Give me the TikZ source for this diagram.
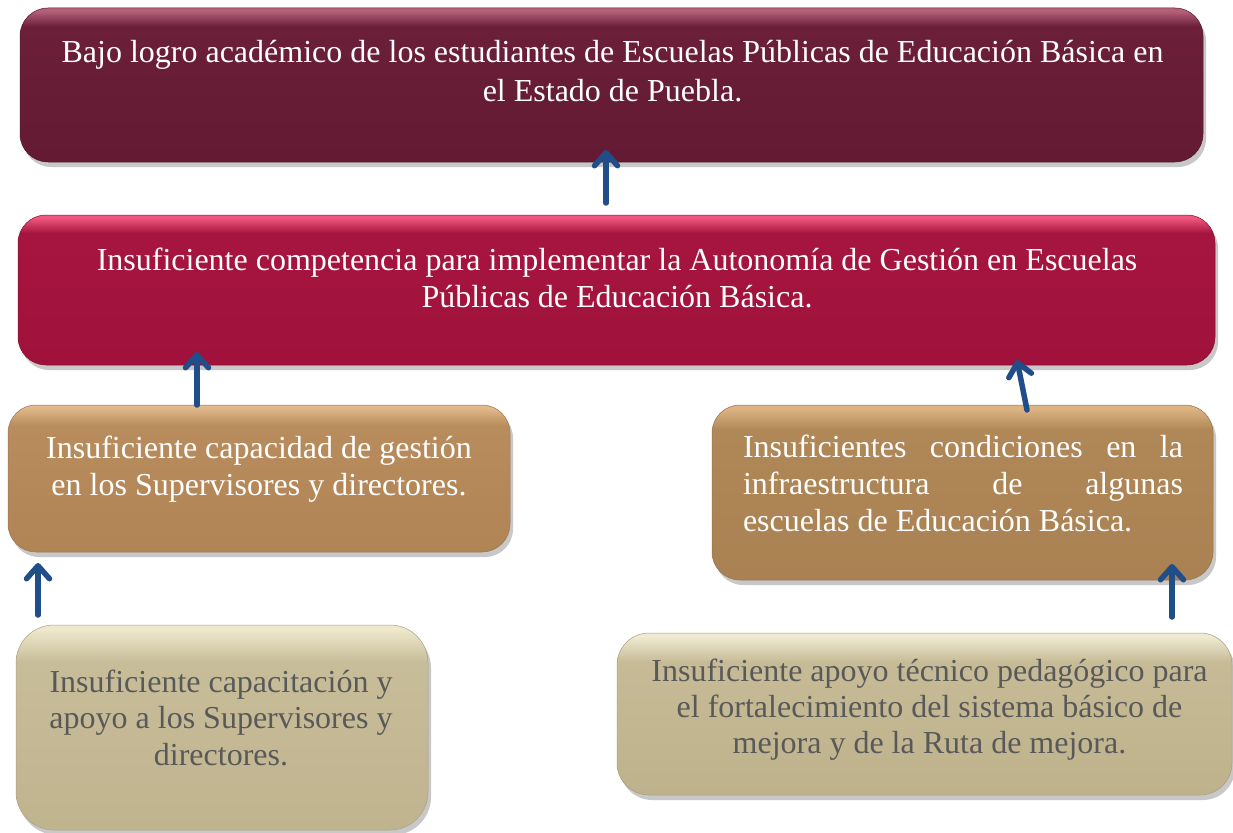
\documentclass[tikz,border=0pt]{standalone}
\usepackage{fontspec}
\setmainfont{Liberation Serif}
\usetikzlibrary{arrows.meta,shadows,calc}
\definecolor{cAm}{HTML}{6B1F38}\definecolor{cAt}{HTML}{B4607A}\definecolor{cAb}{HTML}{641A33}
\definecolor{cBm}{HTML}{A6153F}\definecolor{cBt}{HTML}{F0567F}\definecolor{cBb}{HTML}{A0123B}
\definecolor{cCm}{HTML}{B88C5D}\definecolor{cCt}{HTML}{E2B98A}\definecolor{cCb}{HTML}{B08455}
\definecolor{cDm}{HTML}{B08858}\definecolor{cDt}{HTML}{DDB383}\definecolor{cDb}{HTML}{A98152}
\definecolor{cEm}{HTML}{C8BD99}\definecolor{cEt}{HTML}{EEE8CC}\definecolor{cEb}{HTML}{C0B48F}
\definecolor{cFm}{HTML}{C6BB96}\definecolor{cFt}{HTML}{EFEAD2}\definecolor{cFb}{HTML}{BEB28C}
\definecolor{arrowblue}{HTML}{1F4E89}
\definecolor{greytext}{HTML}{595959}
\pgfdeclareverticalshading{shA}{100bp}{color(0bp)=(cAb); color(25bp)=(cAb); color(69bp)=(cAm); color(74bp)=(cAt); color(100bp)=(cAt)}
\pgfdeclareverticalshading{shB}{100bp}{color(0bp)=(cBb); color(25bp)=(cBb); color(69bp)=(cBm); color(74bp)=(cBt); color(100bp)=(cBt)}
\pgfdeclareverticalshading{shC}{100bp}{color(0bp)=(cCb); color(25bp)=(cCb); color(68bp)=(cCm); color(74bp)=(cCt); color(100bp)=(cCt)}
\pgfdeclareverticalshading{shD}{100bp}{color(0bp)=(cDb); color(25bp)=(cDb); color(68bp)=(cDm); color(74bp)=(cDt); color(100bp)=(cDt)}
\pgfdeclareverticalshading{shE}{100bp}{color(0bp)=(cEb); color(25bp)=(cEb); color(66bp)=(cEm); color(74bp)=(cEt); color(100bp)=(cEt)}
\pgfdeclareverticalshading{shF}{100bp}{color(0bp)=(cFb); color(25bp)=(cFb); color(66bp)=(cFm); color(74bp)=(cFt); color(100bp)=(cFt)}
\tikzset{
  boxbase/.style={rectangle, rounded corners=28pt, inner sep=0pt, outer sep=0pt, line width=0.5pt,
    drop shadow={shadow xshift=3pt, shadow yshift=-5pt, opacity=0.3, fill=black!70}},
  boxA/.style={boxbase, shade, shading=shA, draw=cAm!80!black},
  boxB/.style={boxbase, shade, shading=shB, draw=cBm!80!black},
  boxC/.style={boxbase, shade, shading=shC, draw=cCm!85!black},
  boxD/.style={boxbase, shade, shading=shD, draw=cDm!85!black},
  boxE/.style={boxbase, shade, shading=shE, draw=cEm!85!black, rounded corners=38pt},
  boxF/.style={boxbase, shade, shading=shF, draw=cFm!85!black, rounded corners=32pt},
  txt/.style={inner sep=0pt, outer sep=0pt, anchor=base, font=\fontsize{32}{37}\selectfont},
  whitetxt/.style={txt, text=white},
  greytxt/.style={txt, text=greytext},
  arr/.style={-{Straight Barb[length=13pt,width=23pt,round]}, line width=5.5pt, draw=arrowblue, line cap=round}
}
\begin{document}
\begin{tikzpicture}[x=1pt,y=-1pt]
\useasboundingbox (0,0) rectangle (1233,832);
\fill[white] (0,0) rectangle (1233,832);
% boxes
\node[boxA, minimum width=1183pt, minimum height=154pt] (b1) at (611.5,85) {};
\node[boxB, minimum width=1197pt, minimum height=150pt] (b2) at (616.5,290) {};
\node[boxC, minimum width=502pt, minimum height=147pt] (b3) at (259,478.5) {};
\node[boxD, minimum width=501pt, minimum height=175pt] (b4) at (962.5,492.5) {};
\node[boxE, minimum width=412pt, minimum height=205pt] (b5) at (222,727.5) {};
\node[boxF, minimum width=615pt, minimum height=162pt] (b6) at (924.5,714) {};
% texts
\node[whitetxt] (t1) at (612.5,63) {\parbox[t]{1180pt}{\centering\baselineskip=39pt Bajo logro académico de los estudiantes de Escuelas Públicas de Educación Básica en\\el Estado de Puebla.}};
\node[whitetxt] (t2) at (617,270) {\parbox[t]{1150pt}{\centering Insuficiente competencia para implementar la Autonomía de Gestión en Escuelas\\Públicas de Educación Básica.}};
\node[whitetxt] (t3) at (259,458) {\parbox[t]{490pt}{\centering Insuficiente capacidad de gestión\\en los Supervisores y directores.}};
\node[whitetxt, anchor=base west] (t4) at (743,457) {\parbox[t]{440pt}{\makebox[440pt][s]{Insuficientes condiciones en la}\\\makebox[440pt][s]{infraestructura de algunas}\\escuelas de Educación Básica.}};
\node[greytxt] (t5) at (221,692) {\parbox[t]{400pt}{\centering\baselineskip=36.5pt Insuficiente capacitación y\\apoyo a los Supervisores y\\directores.}};
\node[greytxt] (t6) at (929.5,681) {\parbox[t]{600pt}{\centering\baselineskip=36pt Insuficiente apoyo técnico pedagógico para\\el fortalecimiento del sistema básico de\\mejora y de la Ruta de mejora.}};
% arrows
\draw[arr] ($(b2.north west)+(588,-12)$) -- ($(b1.south west)+(586,-12)$);
\draw[arr] ($(b3.north west)+(189,0)$) -- ($(b2.south west)+(179,-13)$);
\draw[arr] ($(b4.north west)+(315,5)$) -- ($(b2.south west)+(999,-5)$);
\draw[arr] ($(b5.north west)+(22,-10)$) -- ($(b3.south west)+(30,11)$);
\draw[arr] ($(b6.north west)+(555,-16)$) -- ($(b4.south west)+(460,-16)$);
\end{tikzpicture}
\end{document}
